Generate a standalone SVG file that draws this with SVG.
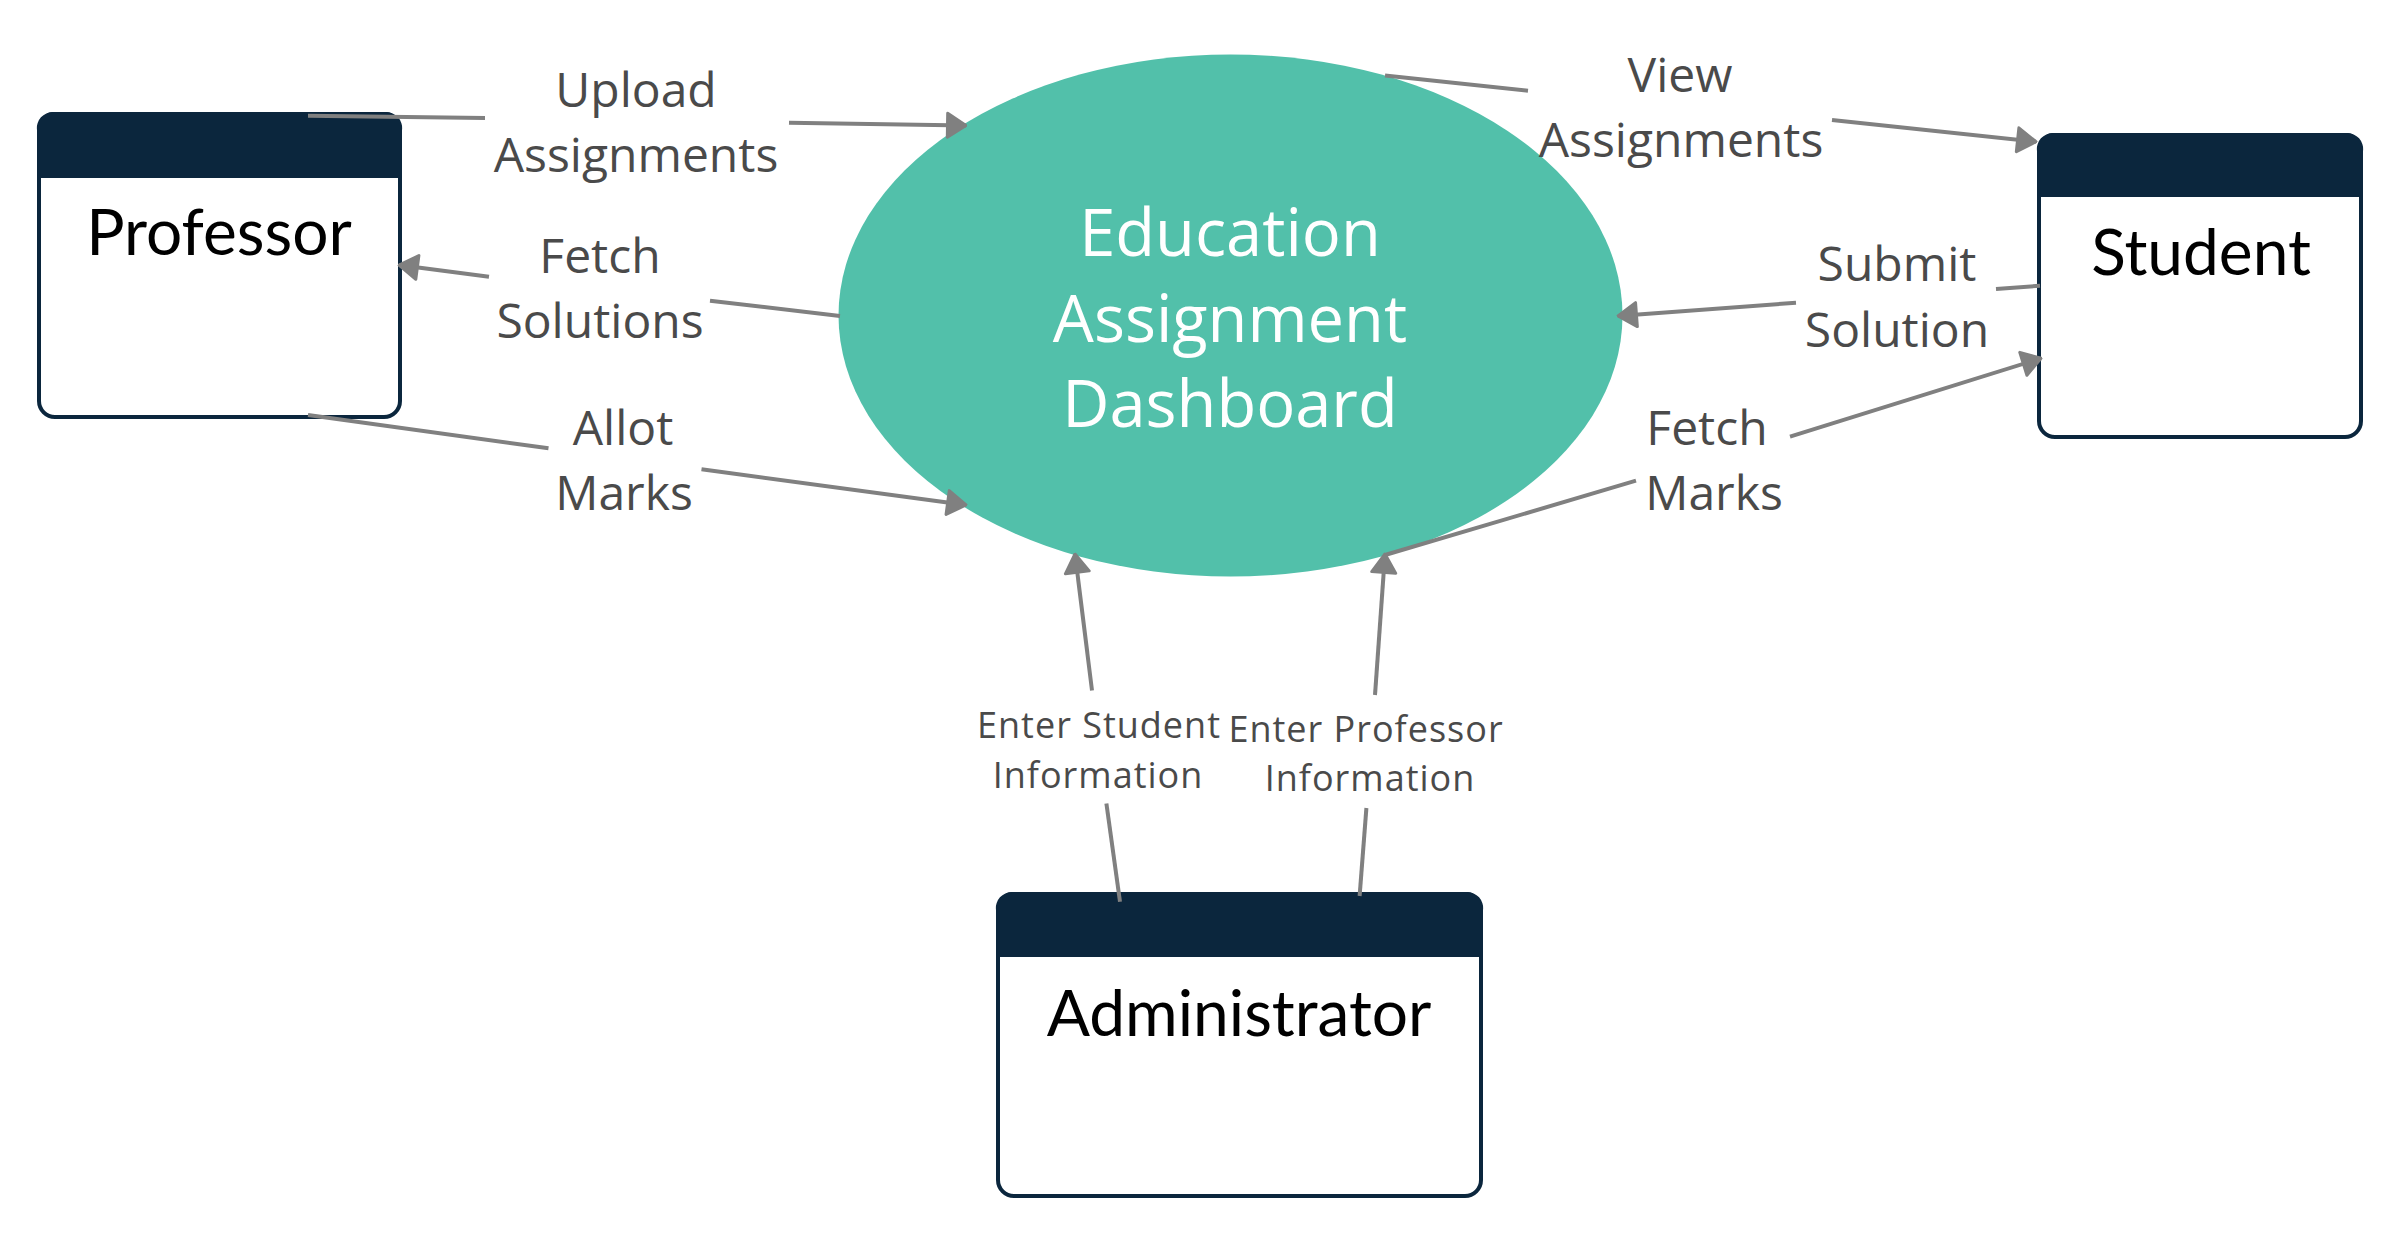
<svg xmlns="http://www.w3.org/2000/svg" width="2402" height="1236" viewBox="0 0 2402 1236">
  <style>
    .box { fill: #ffffff; stroke: #0b263d; stroke-width: 4; }
    .head { fill: #0b263d; }
    .name { font-family: Lato, "Open Sans", sans-serif; font-size: 64px; fill: #000000; text-anchor: middle; }
    .proc { fill: #52c0aa; }
    .proc-text { font-family: "Open Sans", "Noto Sans", sans-serif; font-size: 65px; fill: #ffffff; text-anchor: middle; }
    .flow { fill: none; stroke: #808080; stroke-width: 4; }
    .lbl { font-family: "Open Sans", "Noto Sans", sans-serif; font-size: 48px; fill: #4a4a4a; text-anchor: middle; }
    .lbl-sm { font-family: "Open Sans", "Noto Sans", sans-serif; font-size: 36px; fill: #4a4a4a; text-anchor: middle; letter-spacing: 1px; }
  </style>
  <defs>
    <marker id="arrow" viewBox="0 0 22 28" refX="20.5" refY="14" markerWidth="22" markerHeight="28" markerUnits="userSpaceOnUse" orient="auto">
      <path d="M2,2 L20.5,14 L2,26 z" fill="#808080" stroke="#808080" stroke-width="3" stroke-linejoin="round"/>
    </marker>
  </defs>

  <rect width="2402" height="1236" fill="#ffffff"/>

  <!-- central process -->
  <g id="dashboard">
    <ellipse class="proc" cx="1230.5" cy="315.5" rx="392" ry="261"/>
    <text class="proc-text" x="1230" y="256">Education</text>
    <text class="proc-text" x="1230" y="342">Assignment</text>
    <text class="proc-text" x="1230" y="427">Dashboard</text>
  </g>

  <!-- external entities -->
  <g id="professor">
    <rect class="box" x="39" y="114" width="361" height="303" rx="16"/>
    <path class="head" d="M37,178 V130 A16,16 0 0 1 53,112 H386 A16,16 0 0 1 402,130 V178 Z"/>
    <text class="name" x="219" y="255">Professor</text>
  </g>

  <g id="student">
    <rect class="box" x="2039" y="135" width="322" height="302" rx="16"/>
    <path class="head" d="M2037,197 V151 A16,16 0 0 1 2053,133 H2347 A16,16 0 0 1 2363,151 V197 Z"/>
    <text class="name" x="2201" y="275">Student</text>
  </g>

  <g id="administrator">
    <rect class="box" x="998" y="894" width="483" height="302" rx="16"/>
    <path class="head" d="M996,957 V910 A16,16 0 0 1 1012,892 H1467 A16,16 0 0 1 1483,910 V957 Z"/>
    <text class="name" x="1239" y="1036">Administrator</text>
  </g>

  <!-- data flows, drawn over the shapes -->
  <g id="connectors">
    <path class="flow" d="M308,115.7 L485,118"/>
    <path class="flow" d="M789,122.7 L966,125.5" marker-end="url(#arrow)"/>

    <path class="flow" d="M840,316 L710,300.7"/>
    <path class="flow" d="M489,276.7 L399,265" marker-end="url(#arrow)"/>

    <path class="flow" d="M308,415 L548.5,448.3"/>
    <path class="flow" d="M701.5,469.3 L966,505" marker-end="url(#arrow)"/>

    <path class="flow" d="M1385,75.4 L1528,90.7"/>
    <path class="flow" d="M1832,120 L2036,141.7" marker-end="url(#arrow)"/>

    <path class="flow" d="M2040,285.7 L1996,289"/>
    <path class="flow" d="M1796,302.7 L1618,316" marker-end="url(#arrow)"/>

    <path class="flow" d="M1385,555 L1636,480.7"/>
    <path class="flow" d="M1790,436.7 L2041,358.3" marker-end="url(#arrow)"/>

    <path class="flow" d="M1120,901.7 L1106.4,803.5"/>
    <path class="flow" d="M1092,690.5 L1075,554" marker-end="url(#arrow)"/>

    <path class="flow" d="M1359.6,896 L1366.4,808"/>
    <path class="flow" d="M1375,695 L1385,554" marker-end="url(#arrow)"/>
  </g>

  <!-- flow labels -->
  <g id="labels">
    <text class="lbl" x="636" y="107">Upload</text>
    <text class="lbl" x="636" y="172">Assignments</text>
    <text class="lbl" x="600" y="273">Fetch</text>
    <text class="lbl" x="600" y="338">Solutions</text>
    <text class="lbl" x="623" y="445">Allot</text>
    <text class="lbl" x="624" y="510">Marks</text>
    <text class="lbl" x="1680" y="92">View</text>
    <text class="lbl" x="1681" y="157">Assignments</text>
    <text class="lbl" x="1897" y="281">Submit</text>
    <text class="lbl" x="1897" y="347">Solution</text>
    <text class="lbl" x="1707" y="445">Fetch</text>
    <text class="lbl" x="1714" y="510">Marks</text>
    <text class="lbl-sm" x="1099" y="738">Enter Student</text>
    <text class="lbl-sm" x="1098" y="788">Information</text>
    <text class="lbl-sm" x="1366" y="742">Enter Professor</text>
    <text class="lbl-sm" x="1370" y="791">Information</text>
  </g>
</svg>
